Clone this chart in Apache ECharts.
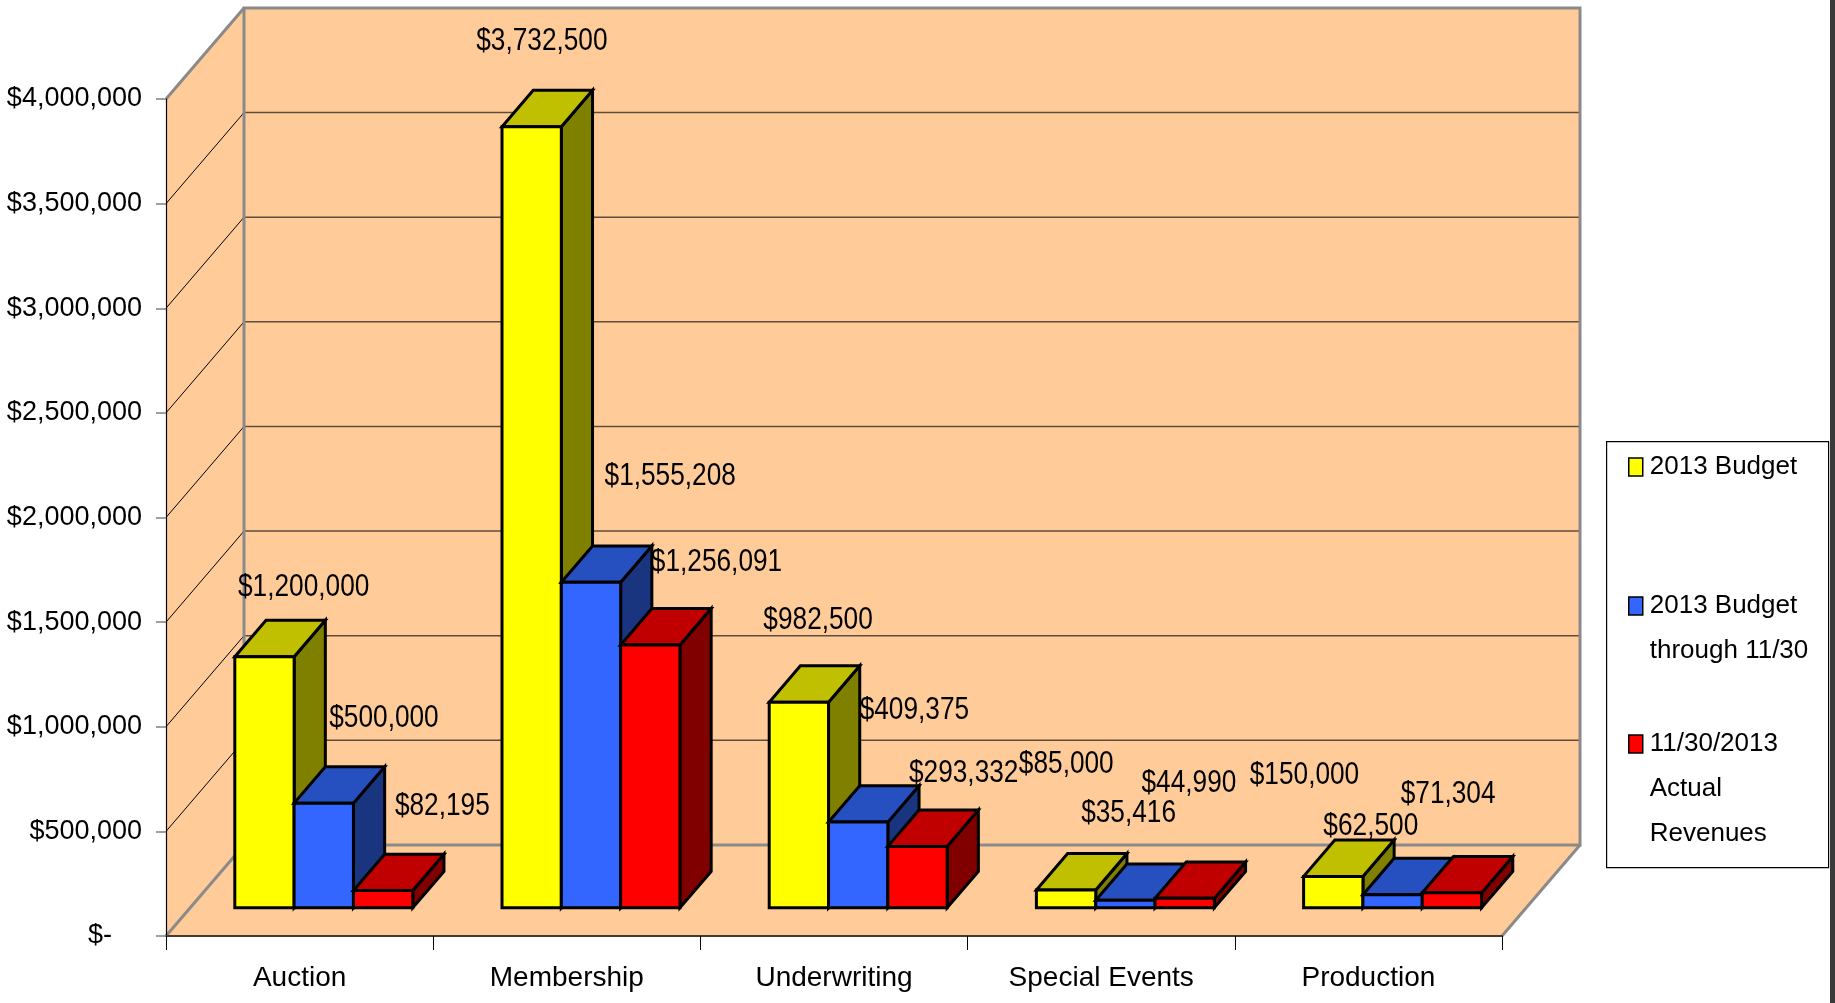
<!DOCTYPE html>
<html>
<head>
<meta charset="utf-8">
<script src="https://cdn.jsdelivr.net/npm/echarts@6/dist/echarts.min.js"></script>
<style>
html,body{margin:0;padding:0;background:#fff;}
#chart{width:1835px;height:1003px;}
</style>
</head>
<body>
<div id="chart"></div>
<script>
// ---------- data ----------
const categories = ['Auction', 'Membership', 'Underwriting', 'Special Events', 'Production'];
const budget2013 = [1200000, 3732500, 982500, 85000, 150000];
const budgetThrough = [500000, 1555208, 409375, 35416, 62500];
const actualRevenue = [82195, 1256091, 293332, 44990, 71304];
const seriesNames = ['2013 Budget', '2013 Budget through 11/30', '11/30/2013 Actual Revenues'];
const legendLines = [['2013 Budget'], ['2013 Budget', 'through 11/30'], ['11/30/2013', 'Actual', 'Revenues']];
const yTicks = [0, 500000, 1000000, 1500000, 2000000, 2500000, 3000000, 3500000, 4000000];

// ---------- style / layout config ----------
const FONT = "'Liberation Sans Narrow', 'Arial Narrow', 'Liberation Sans', Arial, sans-serif";
const NARROW = 0.82;         // horizontal squeeze to imitate a narrow face
const WALL = '#FFCC99';
const BAR_FRAC = 0.222;      // bar width as fraction of category band
const DEPTH_FRAC = 0.292;    // full wall depth (x) as fraction of band
const DEPTH_SLOPE = 1.167;   // dy/dx of oblique depth
const PLANE = 0.31;          // bar row position within depth
const BAR_DEPTH = 0.40;      // bar depth as fraction of full depth
const palettes = [
  {front: '#FFFF00', top: '#C0C000', side: '#808000'},
  {front: '#3366FF', top: '#2650C0', side: '#1A3580'},
  {front: '#FF0000', top: '#C00000', side: '#800000'}
];
// label nudges (px) relative to the back-top centre of each bar, per series per category
const labelNudge = [
  [[8,-33], [-21,-49], [-12,-46], [-31,-89], [-60,-65]],
  [[29,-49], [48,-70], [25,-76], [-28,-51], [-53,-32]],
  [[28,-48], [35,-46], [15,-37], [-27,-79], [-35,-62]]
];

function money(v) {
  return '$' + Math.round(v).toLocaleString('en-US');
}

function depthVec(band) {
  const dx = band * DEPTH_FRAC;
  return [dx, -dx * DEPTH_SLOPE];
}

function renderWalls(params, api) {
  const cs = params.coordSys;
  const band = api.size([1, 0])[0];
  const [DX, DY] = depthVec(band);
  const x0 = cs.x, x1 = cs.x + cs.width;
  const yB = api.coord([0, yTicks[0]])[1];
  const yT = api.coord([0, yTicks[yTicks.length - 1]])[1];
  const children = [];
  children.push({type: 'polygon', shape: {points: [[x0, yB], [x1, yB], [x1 + DX, yB + DY], [x0 + DX, yB + DY]]},
    style: {fill: WALL, stroke: null}});
  children.push({type: 'polygon', shape: {points: [[x0, yB], [x0, yT], [x0 + DX, yT + DY], [x0 + DX, yB + DY]]},
    style: {fill: WALL, stroke: null}});
  children.push({type: 'rect', shape: {x: x0 + DX, y: yT + DY, width: x1 - x0, height: yB - yT},
    style: {fill: WALL, stroke: null}});
  for (let i = 1; i < yTicks.length - 1; i++) {
    const y = api.coord([0, yTicks[i]])[1];
    children.push({type: 'line', shape: {x1: x0 + DX, y1: y + DY, x2: x1 + DX, y2: y + DY},
      style: {stroke: '#5e4c3c', lineWidth: 1.5}});
    children.push({type: 'line', shape: {x1: x0, y1: y, x2: x0 + DX, y2: y + DY},
      style: {stroke: '#000', lineWidth: 1}});
  }
  const edge = {stroke: '#8a8a8a', lineWidth: 3};
  children.push({type: 'rect', shape: {x: x0 + DX, y: yT + DY, width: x1 - x0, height: yB - yT},
    style: Object.assign({fill: null}, edge)});
  children.push({type: 'line', shape: {x1: x0, y1: yT, x2: x0 + DX, y2: yT + DY}, style: edge});
  children.push({type: 'line', shape: {x1: x0, y1: yB, x2: x0 + DX, y2: yB + DY}, style: edge});
  children.push({type: 'line', shape: {x1: x1, y1: yB, x2: x1 + DX, y2: yB + DY}, style: edge});
  return {type: 'group', children: children};
}

function makeBarRender(si) {
  const pal = palettes[si];
  return function (params, api) {
    const ci = api.value(0), v = api.value(1);
    const band = api.size([1, 0])[0];
    const [DX, DY] = depthVec(band);
    const base = api.coord([ci, 0]);
    const top = api.coord([ci, v]);
    const bw = band * BAR_FRAC;
    const px = DX * PLANE, py = DY * PLANE;
    const bx = DX * BAR_DEPTH, by = DY * BAR_DEPTH;
    const xa = base[0] - 1.5 * bw + si * bw + px;
    const xb = xa + bw;
    const yb = base[1] + py, yt = top[1] + py;
    const line = {stroke: '#000', lineWidth: 3, lineJoin: 'miter'};
    const nudge = labelNudge[si][ci];
    return {
      type: 'group',
      children: [
        {type: 'polygon', shape: {points: [[xb, yt], [xb + bx, yt + by], [xb + bx, yb + by], [xb, yb]]},
          style: Object.assign({fill: pal.side}, line)},
        {type: 'polygon', shape: {points: [[xa, yt], [xb, yt], [xb + bx, yt + by], [xa + bx, yt + by]]},
          style: Object.assign({fill: pal.top}, line)},
        {type: 'rect', shape: {x: xa, y: yt, width: bw, height: yb - yt},
          style: Object.assign({fill: pal.front}, line)},
        {type: 'text', z2: 100,
          x: xa + bw / 2 + bx + nudge[0], y: yt + by + nudge[1], scaleX: NARROW,
          style: {text: money(v), x: 0, y: 0,
            align: 'center', verticalAlign: 'middle', fill: '#000', fontSize: 32, fontFamily: FONT}}
      ]
    };
  };
}

const seriesValues = [budget2013, budgetThrough, actualRevenue];

const chart = echarts.init(document.getElementById('chart'), null, {renderer: 'canvas'});

const series = [{
  type: 'custom', name: 'walls', z: 1, silent: true,
  renderItem: renderWalls, data: [[0, 0]]
}];
seriesValues.forEach(function (vals, si) {
  series.push({
    type: 'custom', name: seriesNames[si], z: 2 + si,
    itemStyle: {color: palettes[si].front},
    renderItem: makeBarRender(si),
    data: vals.map(function (v, i) { return [i, v]; })
  });
});

const LH = 45;
const legendCenters = [467, 606, 744];
const legends = seriesNames.map(function (name, si) {
  const n = legendLines[si].length;
  const pad = [];
  for (let k = 0; k < n - 1; k++) pad.push(' ');
  const text = pad.concat(legendLines[si]).join('\n');
  return {
    data: [name], orient: 'vertical', left: 1628,
    top: legendCenters[si] - (2 * n - 1) * LH / 2,
    padding: 0, itemWidth: 14, itemHeight: 18, selectedMode: false, icon: 'rect',
    itemStyle: {borderColor: '#000', borderWidth: 1.5},
    formatter: function () { return text; },
    textStyle: {fontSize: 26, fontFamily: FONT, color: '#000', lineHeight: LH, padding: [0, 0, 0, 2]}
  };
});

chart.setOption({
  animation: false,
  backgroundColor: '#fff',
  grid: {left: 166, right: 333, top: 99, bottom: 67, containLabel: false, outerBoundsMode: 'none'},
  xAxis: {
    type: 'category', data: categories,
    axisLine: {show: true, lineStyle: {color: '#4a3a2a', width: 2}},
    axisTick: {show: true, length: 14, lineStyle: {color: '#000', width: 1}},
    axisLabel: {fontSize: 28, fontFamily: FONT, color: '#000', margin: 28, interval: 0},
    z: 10
  },
  yAxis: {
    type: 'value', min: 0, max: 4000000, interval: 500000,
    axisLine: {show: true, lineStyle: {color: '#000', width: 1.2}},
    axisTick: {show: true, length: 10, lineStyle: {color: '#808080', width: 1.5}},
    splitLine: {show: false},
    axisLabel: {fontSize: 27, fontFamily: FONT, color: '#000', margin: 24,
      formatter: function (v) { return v === 0 ? '$-    ' : money(v); }},
    z: 10
  },
  legend: legends,
  graphic: [
    {type: 'rect', left: 1606, top: 441, z: 0, shape: {width: 222, height: 426},
      style: {fill: '#fff', stroke: '#000', lineWidth: 1.2}},
    {type: 'rect', left: 1830, top: 0, z: 0, shape: {width: 5, height: 1003},
      style: {fill: '#3a3a3a'}}
  ],
  series: series
});
</script>
</body>
</html>
